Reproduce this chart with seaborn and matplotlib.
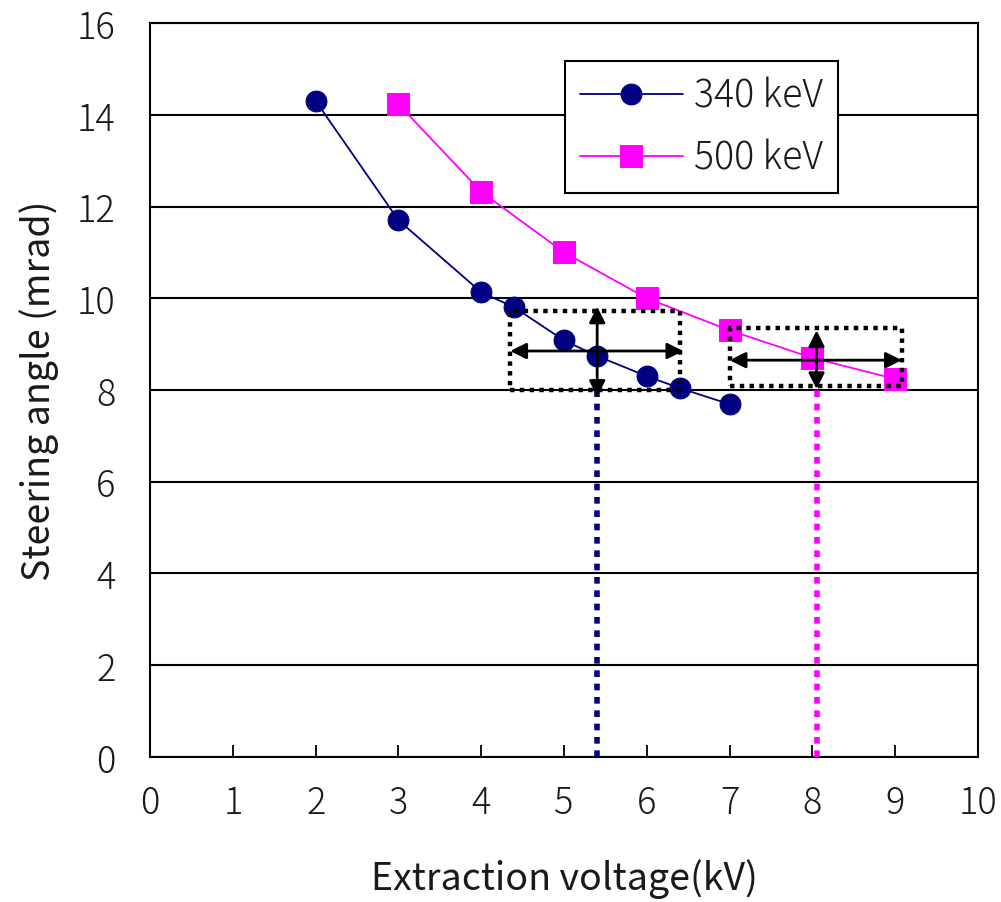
import matplotlib
matplotlib.use("Agg")
import matplotlib.pyplot as plt
import seaborn as sns
import pandas as pd

# Steering angle vs extraction voltage for two beam energies
v_340 = [2.0, 3.0, 4.0, 4.4, 5.0, 5.4, 6.0, 6.4, 7.0]
a_340 = [14.3, 11.7, 10.13, 9.8, 9.08, 8.74, 8.3, 8.04, 7.69]
v_500 = [3.0, 4.0, 5.0, 6.0, 7.0, 8.0, 9.0]
a_500 = [14.23, 12.32, 11.0, 10.0, 9.3, 8.7, 8.24]

x_ticks = list(range(0, 11))
y_ticks = list(range(0, 17, 2))

# Operating windows (voltage range, angle range) and the chosen operating voltage
win_340_v = [4.35, 6.4]
win_340_a = [8.0, 9.72]
win_340_arrow_a = 8.85
win_340_arrow_v = 5.4
win_340_arrow_span = [7.85, 9.82]
op_340 = 5.4

win_500_v = [7.0, 9.08]
win_500_a = [8.08, 9.36]
win_500_arrow_a = 8.65
win_500_arrow_v = 8.05
win_500_arrow_span = [8.02, 9.3]
op_500 = 8.05

navy = "#000080"
magenta = "#FF00FF"
text_col = "#1a1a1a"

sns.set_theme(style="white")
plt.rcParams["font.family"] = ["Noto Sans CJK JP", "DejaVu Sans"]
plt.rcParams["font.weight"] = "light"

fig = plt.figure(figsize=(10.01, 9.03), dpi=100)
ax = fig.add_axes([0.150, 0.1606, 0.827, 0.8128])

df340 = pd.DataFrame({"v": v_340, "a": a_340})
df500 = pd.DataFrame({"v": v_500, "a": a_500})

sns.lineplot(data=df340, x="v", y="a", ax=ax, color=navy, marker="o",
             markersize=15, markeredgecolor=navy, linewidth=1.3,
             label="340 keV", zorder=5)
sns.lineplot(data=df500, x="v", y="a", ax=ax, color=magenta, marker="s",
             markersize=16, markeredgecolor=magenta, linewidth=1.3,
             label="500 keV", zorder=4)

# dotted window rectangles
dot = (0, (1, 1.2))
for (v0, v1), (a0, a1) in [(win_340_v, win_340_a), (win_500_v, win_500_a)]:
    ax.plot([v0, v1, v1, v0, v0], [a0, a0, a1, a1, a0], color="black",
            linewidth=3.2, linestyle=dot, zorder=6)

# double arrows
arrow_kw = dict(arrowstyle="<|-|>", color="black", lw=2, mutation_scale=24,
                shrinkA=0, shrinkB=0)
ax.annotate("", xy=(win_340_v[0], win_340_arrow_a),
            xytext=(win_340_v[1] + 0.04, win_340_arrow_a), arrowprops=arrow_kw, zorder=7)
ax.annotate("", xy=(win_340_arrow_v, win_340_arrow_span[0]),
            xytext=(win_340_arrow_v, win_340_arrow_span[1]), arrowprops=arrow_kw, zorder=7)
ax.annotate("", xy=(win_500_v[0], win_500_arrow_a),
            xytext=(win_500_v[1], win_500_arrow_a), arrowprops=arrow_kw, zorder=7)
ax.annotate("", xy=(win_500_arrow_v, win_500_arrow_span[0]),
            xytext=(win_500_arrow_v, win_500_arrow_span[1]), arrowprops=arrow_kw, zorder=7)

# dotted drop lines to the voltage axis
ax.plot([op_340, op_340], [0, win_340_a[0]], color=navy, linewidth=4,
        linestyle=(0, (1.2, 1.2)), zorder=3)
ax.plot([op_500, op_500], [0, win_500_a[0]], color=magenta, linewidth=4,
        linestyle=(0, (1.2, 1.2)), zorder=3)

ax.set_xlim(0, 10)
ax.set_ylim(0, 16)
ax.set_xticks(x_ticks)
ax.set_yticks(y_ticks)
ax.yaxis.grid(True, color="black", linewidth=1.5)
ax.xaxis.grid(False)
ax.set_axisbelow(True)
for s in ax.spines.values():
    s.set_visible(True)
    s.set_color("black")
    s.set_linewidth(1.5)

ax.tick_params(axis="x", direction="in", length=9, width=1.3, color="black",
               pad=19, labelsize=26, labelcolor=text_col, bottom=True)
ax.tick_params(axis="y", length=0, pad=25, labelsize=26, labelcolor=text_col)

ax.set_xlabel("Extraction voltage(kV)", fontsize=27, color=text_col, labelpad=26)
ax.set_ylabel("Steering angle (mrad)", fontsize=27, color=text_col, labelpad=13)

leg = ax.legend(loc="upper left", bbox_to_anchor=(0.501, 0.948),
                frameon=True, fancybox=False, fontsize=27, handlelength=2.75,
                borderpad=0.4, labelspacing=0.6, handletextpad=0.3,
                borderaxespad=0)
leg.get_frame().set_edgecolor("black")
leg.get_frame().set_linewidth(1.5)
leg.get_frame().set_facecolor("white")
leg.get_frame().set_alpha(1)
leg.set_zorder(10)
for t in leg.get_texts():
    t.set_color(text_col)

fig.savefig("out.png", dpi=100)
